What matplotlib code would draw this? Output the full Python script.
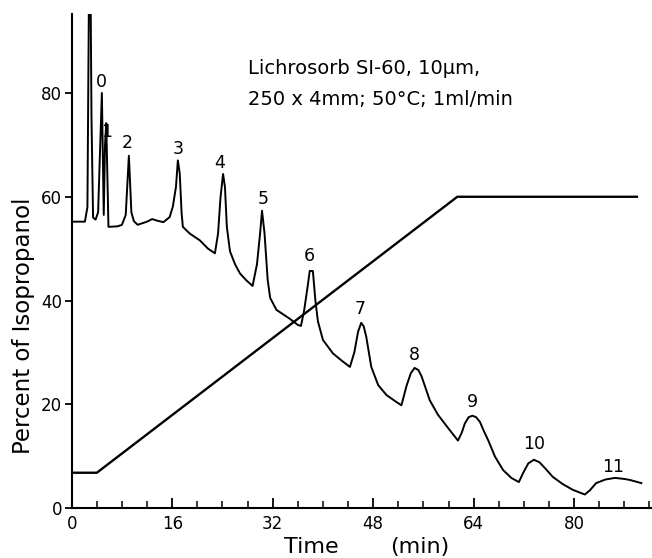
import matplotlib
matplotlib.use("Agg")
import matplotlib.pyplot as plt
import matplotlib.transforms as mtransforms
from matplotlib.ticker import MultipleLocator

# --- data ---
grad_t = [0.0, 4.0, 61.4, 90.0]
grad_y = [6.8, 6.8, 60.0, 60.0]

chrom_t = [0.0, 2.1, 2.5, 2.75, 3.0, 3.15, 3.4, 3.8, 4.2, 4.8, 5.1, 5.3, 5.5, 5.85,
           7.3, 8.0, 8.6, 9.1, 9.5, 9.9, 10.5, 12.0, 12.8, 13.6, 14.6, 15.6, 16.1, 16.6,
           16.9, 17.2, 17.5, 17.7, 18.8, 20.4, 21.7, 22.8, 23.3, 23.7, 24.1, 24.4, 24.7,
           25.2, 26.0, 26.8, 27.8, 28.8, 29.5, 30.0, 30.3, 30.7, 31.2, 31.6, 32.6, 34.7,
           36.0, 36.5, 37.0, 37.6, 37.9, 38.4, 38.8, 39.2, 40.0, 41.6, 43.0, 44.3, 45.0,
           45.6, 46.1, 46.5, 46.9, 47.7, 48.8, 50.1, 51.5, 52.5, 53.3, 54.0, 54.6, 55.2,
           55.7, 56.3, 57.0, 58.3, 60.2, 61.5, 62.1, 62.6, 63.2, 63.8, 64.4, 65.0, 65.6,
           66.3, 67.4, 68.7, 70.0, 71.2, 71.9, 72.7, 73.6, 74.5, 75.5, 76.6, 78.2, 79.8,
           81.7, 82.5, 83.5, 85.0, 86.5, 88.0, 88.9, 90.7]
chrom_y = [55.2, 55.2, 58.0, 100.0, 100.0, 75.0, 56.0, 55.6, 57.0, 80.0, 56.5, 70.0, 74.2, 54.2,
           54.3, 54.6, 56.5, 67.9, 57.0, 55.3, 54.6, 55.2, 55.7, 55.4, 55.1, 56.1, 58.1, 61.9,
           67.0, 64.5, 56.8, 54.2, 52.9, 51.6, 50.0, 49.1, 52.9, 60.0, 64.4, 61.9, 54.2,
           49.5, 47.0, 45.2, 43.9, 42.8, 47.0, 53.0, 57.3, 53.0, 44.0, 40.5, 38.2, 36.5,
           35.3, 35.1, 38.0, 43.0, 45.7, 45.7, 40.0, 36.0, 32.4, 29.8, 28.4, 27.2, 30.0,
           34.0, 35.7, 35.0, 33.0, 27.2, 23.7, 21.8, 20.6, 19.8, 23.5, 26.0, 27.0, 26.6,
           25.4, 23.3, 20.8, 18.0, 15.0, 13.0, 14.5, 16.3, 17.5, 17.8, 17.5, 16.6, 14.9,
           13.1, 9.9, 7.3, 5.8, 5.0, 6.8, 8.6, 9.3, 8.8, 7.5, 6.0, 4.6, 3.5,
           2.6, 3.4, 4.8, 5.5, 5.8, 5.6, 5.4, 4.8]

peak_labels = ["0", "1", "2", "3", "4", "5", "6", "7", "8", "9", "10", "11"]
label_t = [4.7, 5.5, 8.9, 16.9, 23.6, 30.5, 37.9, 46.0, 54.6, 63.8, 73.7, 86.2]
label_y = [82.1, 72.5, 70.3, 69.3, 66.6, 59.5, 48.6, 38.4, 29.5, 20.5, 12.3, 7.9]

x_major = [0, 16, 32, 48, 64, 80]
y_major = [0, 20, 40, 60, 80]

title_lines = ["Lichrosorb SI-60, 10\u03bcm,", "250 x 4mm; 50\u00b0C; 1ml/min"]
y_title = "Percent of Isopropanol"
x_title_parts = ["Time", "(min)"]

# --- figure ---
plt.rcParams['font.family'] = ['DejaVu Sans']
fig = plt.figure(figsize=(6.52, 5.58), dpi=100)
ax = fig.add_axes([0.110, 0.0896, 0.89, 0.885])

ax.plot(grad_t, grad_y, color='black', lw=1.7, solid_joinstyle='miter')
ax.plot(chrom_t, chrom_y, color='black', lw=1.4, solid_joinstyle='round')

for lab, tx, ty in zip(peak_labels, label_t, label_y):
    ax.text(tx, ty, lab, ha='center', va='center', fontsize=12.5)

ax.text(28.0, 84.8, title_lines[0], ha='left', va='center', fontsize=14)
ax.text(28.0, 78.8, title_lines[1], ha='left', va='center', fontsize=14)

ax.set_xlim(0, 92.4)
ax.set_ylim(0, 95.2)
ax.set_xticks(x_major)
ax.set_yticks(y_major)
ax.xaxis.set_minor_locator(MultipleLocator(4))

for s in ['top', 'right']:
    ax.spines[s].set_visible(False)
for s in ['left', 'bottom']:
    ax.spines[s].set_linewidth(1.5)

ax.tick_params(axis='x', which='major', direction='in', length=7, width=1.3,
               labelsize=12, pad=5)
ax.tick_params(axis='x', which='minor', direction='in', length=5, width=1.1)
ax.tick_params(axis='y', which='major', direction='out', length=5, width=1.3,
               labelsize=12, pad=2)

# axis titles
trans_y = mtransforms.blended_transform_factory(ax.transAxes, ax.transData)
ax.text(-0.083, 35.1, y_title, rotation=90, ha='center', va='center',
        fontsize=16.5, transform=trans_y)
trans_x = mtransforms.blended_transform_factory(ax.transData, ax.transAxes)
ax.text(38.1, -0.079, x_title_parts[0], ha='center', va='center', fontsize=16,
        transform=trans_x)
ax.text(55.4, -0.079, x_title_parts[1], ha='center', va='center', fontsize=16,
        transform=trans_x)

fig.savefig('out.png', dpi=100)
